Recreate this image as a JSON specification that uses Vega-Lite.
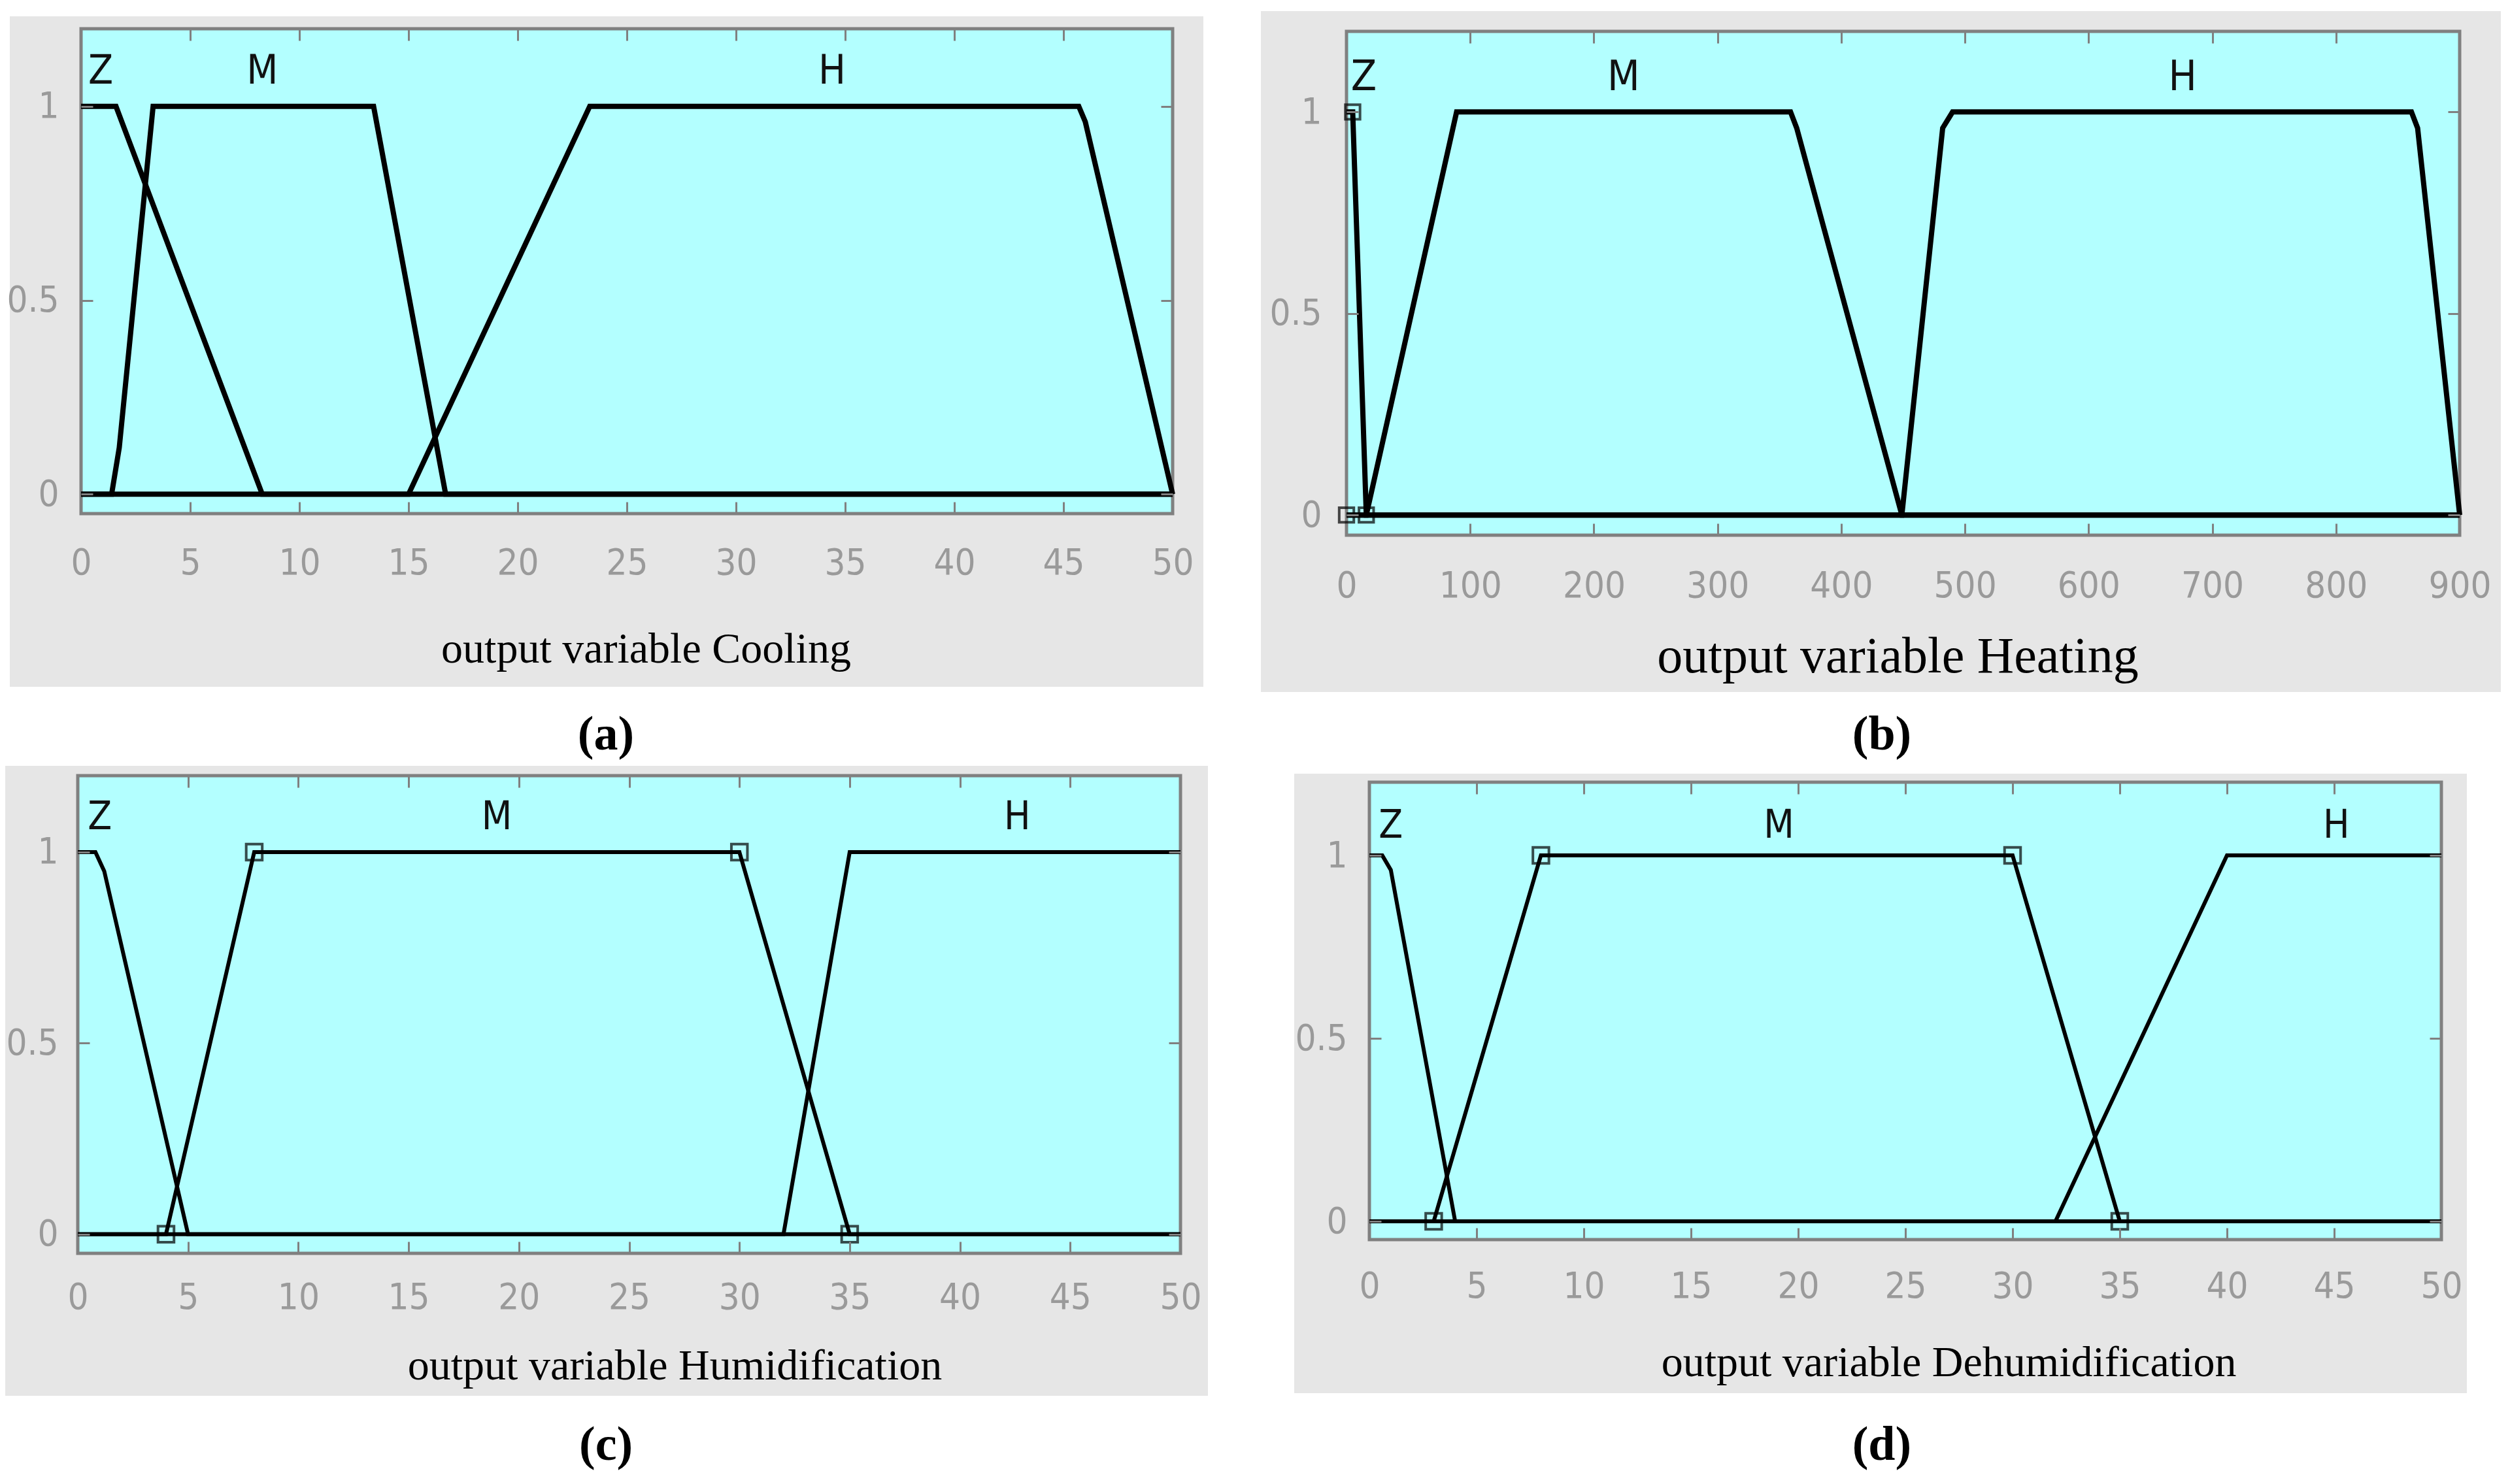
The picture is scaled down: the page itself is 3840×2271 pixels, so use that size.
{
  "$schema": "https://vega.github.io/schema/vega-lite/v6.json",
  "background": "white",
  "padding": {"left": 7, "top": 16, "right": 5, "bottom": 10},
  "columns": 2,
  "spacing": {"row": 368, "column": 254},
  "bounds": "flush",
  "align": "each",
  "config": {
    "view": {"stroke": null},
    "axis": {
      "domain": false, "grid": false, "tickColor": "#808080", "tickWidth": 3, "tickSize": -18,
      "labelFont": "Liberation Sans Narrow, Arial Narrow, DejaVu Sans Condensed, Liberation Sans",
      "labelFontSize": 56, "labelColor": "#9a9a9a", "labelFlush": false, "labelOverlap": false, "labelBound": false,
      "titleFont": "Liberation Serif", "titleFontWeight": "normal", "titleColor": "#000000", "zindex": 1
    }
  },
  "datasets": {
    "cooling": [
      {"mf": "Z", "i": 0, "x": 0, "y": 1}, {"mf": "Z", "i": 1, "x": 1.6, "y": 1}, {"mf": "Z", "i": 2, "x": 8.3, "y": 0}, {"mf": "Z", "i": 3, "x": 50, "y": 0},
      {"mf": "M", "i": 0, "x": 0, "y": 0}, {"mf": "M", "i": 1, "x": 1.4, "y": 0}, {"mf": "M", "i": 2, "x": 1.75, "y": 0.12}, {"mf": "M", "i": 3, "x": 3.3, "y": 1}, {"mf": "M", "i": 4, "x": 13.4, "y": 1}, {"mf": "M", "i": 5, "x": 16.7, "y": 0}, {"mf": "M", "i": 6, "x": 50, "y": 0},
      {"mf": "H", "i": 0, "x": 0, "y": 0}, {"mf": "H", "i": 1, "x": 15, "y": 0}, {"mf": "H", "i": 2, "x": 23.3, "y": 1}, {"mf": "H", "i": 3, "x": 45.7, "y": 1}, {"mf": "H", "i": 4, "x": 46.0, "y": 0.96}, {"mf": "H", "i": 5, "x": 50, "y": 0}
    ],
    "cooling_lab": [{"label": "Z", "x": 0.9, "y": 1.09}, {"label": "M", "x": 8.3, "y": 1.09}, {"label": "H", "x": 34.4, "y": 1.09}],
    "heating": [
      {"mf": "Z", "i": 0, "x": 0, "y": 1}, {"mf": "Z", "i": 1, "x": 5, "y": 1}, {"mf": "Z", "i": 2, "x": 16, "y": 0}, {"mf": "Z", "i": 3, "x": 900, "y": 0},
      {"mf": "M", "i": 0, "x": 0, "y": 0}, {"mf": "M", "i": 1, "x": 16, "y": 0}, {"mf": "M", "i": 2, "x": 89, "y": 1}, {"mf": "M", "i": 3, "x": 359, "y": 1}, {"mf": "M", "i": 4, "x": 364, "y": 0.96}, {"mf": "M", "i": 5, "x": 449, "y": 0}, {"mf": "M", "i": 6, "x": 900, "y": 0},
      {"mf": "H", "i": 0, "x": 0, "y": 0}, {"mf": "H", "i": 1, "x": 449, "y": 0}, {"mf": "H", "i": 2, "x": 482, "y": 0.96}, {"mf": "H", "i": 3, "x": 490, "y": 1}, {"mf": "H", "i": 4, "x": 861, "y": 1}, {"mf": "H", "i": 5, "x": 866, "y": 0.96}, {"mf": "H", "i": 6, "x": 900, "y": 0}
    ],
    "heating_lab": [{"label": "Z", "x": 14, "y": 1.085}, {"label": "M", "x": 224, "y": 1.085}, {"label": "H", "x": 676, "y": 1.085}],
    "heating_pts": [{"x": 0, "y": 0}, {"x": 5, "y": 1}, {"x": 16, "y": 0}],
    "humid": [
      {"mf": "Z", "i": 0, "x": 0, "y": 1}, {"mf": "Z", "i": 1, "x": 0.8, "y": 1}, {"mf": "Z", "i": 2, "x": 1.2, "y": 0.95}, {"mf": "Z", "i": 3, "x": 5, "y": 0}, {"mf": "Z", "i": 4, "x": 50, "y": 0},
      {"mf": "M", "i": 0, "x": 0, "y": 0}, {"mf": "M", "i": 1, "x": 4, "y": 0}, {"mf": "M", "i": 2, "x": 8, "y": 1}, {"mf": "M", "i": 3, "x": 30, "y": 1}, {"mf": "M", "i": 4, "x": 35, "y": 0}, {"mf": "M", "i": 5, "x": 50, "y": 0},
      {"mf": "H", "i": 0, "x": 0, "y": 0}, {"mf": "H", "i": 1, "x": 32, "y": 0}, {"mf": "H", "i": 2, "x": 35, "y": 1}, {"mf": "H", "i": 3, "x": 50, "y": 1}
    ],
    "humid_lab": [{"label": "Z", "x": 1.0, "y": 1.09}, {"label": "M", "x": 19, "y": 1.09}, {"label": "H", "x": 42.6, "y": 1.09}],
    "humid_pts": [{"x": 4, "y": 0}, {"x": 8, "y": 1}, {"x": 30, "y": 1}, {"x": 35, "y": 0}],
    "dehumid": [
      {"mf": "Z", "i": 0, "x": 0, "y": 1}, {"mf": "Z", "i": 1, "x": 0.6, "y": 1}, {"mf": "Z", "i": 2, "x": 1.0, "y": 0.96}, {"mf": "Z", "i": 3, "x": 4, "y": 0}, {"mf": "Z", "i": 4, "x": 50, "y": 0},
      {"mf": "M", "i": 0, "x": 0, "y": 0}, {"mf": "M", "i": 1, "x": 3, "y": 0}, {"mf": "M", "i": 2, "x": 8, "y": 1}, {"mf": "M", "i": 3, "x": 30, "y": 1}, {"mf": "M", "i": 4, "x": 35, "y": 0}, {"mf": "M", "i": 5, "x": 50, "y": 0},
      {"mf": "H", "i": 0, "x": 0, "y": 0}, {"mf": "H", "i": 1, "x": 32, "y": 0}, {"mf": "H", "i": 2, "x": 40, "y": 1}, {"mf": "H", "i": 3, "x": 50, "y": 1}
    ],
    "dehumid_lab": [{"label": "Z", "x": 1.0, "y": 1.08}, {"label": "M", "x": 19.1, "y": 1.08}, {"label": "H", "x": 45.1, "y": 1.08}],
    "dehumid_pts": [{"x": 3, "y": 0}, {"x": 8, "y": 1}, {"x": 30, "y": 1}, {"x": 35, "y": 0}]
  },
  "concat": [
    {
      "width": 1675, "height": 742,
      "resolve": {"axis": {"x": "independent", "y": "independent"}},
      "layer": [
        {"data": {"values": [{}]}, "mark": {"type": "rect", "color": "#e6e6e6"},
         "encoding": {
           "x": {"datum": -3.263, "type": "quantitative", "scale": {"domain": [0, 50], "range": [5, 1675], "nice": false, "zero": false}, "axis": null},
           "x2": {"datum": 51.407},
           "y": {"datum": 1.232, "type": "quantitative", "scale": {"domain": [-0.05, 1.2], "range": [742, 0], "nice": false, "zero": false}, "axis": null},
           "y2": {"datum": -0.4965}}},
        {"data": {"values": [{}]}, "mark": {"type": "rect", "fill": "#b3ffff", "stroke": "#808080", "strokeWidth": 5},
         "encoding": {
           "x": {"datum": 0, "type": "quantitative", "scale": {"domain": [0, 50], "range": [5, 1675], "nice": false, "zero": false},
                 "axis": {"orient": "bottom", "values": [0, 5, 10, 15, 20, 25, 30, 35, 40, 45, 50], "format": "d", "labelPadding": 93, "labelBaseline": "middle",
                          "title": "output variable Cooling", "titleFontSize": 66, "titleX": 869, "titleY": 207, "titleAlign": "center", "titleBaseline": "middle", "zindex": 1}},
           "x2": {"datum": 50},
           "y": {"datum": -0.05, "type": "quantitative", "scale": {"domain": [-0.05, 1.2], "range": [742, 0], "nice": false, "zero": false},
                 "axis": {"orient": "left", "offset": -5, "values": [0, 0.5, 1], "format": "~g", "labelPadding": 52, "title": null, "zindex": 1}},
           "y2": {"datum": 1.2}}},
        {"data": {"name": "cooling"}, "mark": {"type": "line", "color": "#000000", "strokeWidth": 8, "strokeMiterLimit": 4},
         "encoding": {
           "x": {"field": "x", "type": "quantitative", "scale": {"domain": [0, 50], "range": [5, 1675], "nice": false, "zero": false},
                 "axis": {"orient": "top", "values": [0, 5, 10, 15, 20, 25, 30, 35, 40, 45, 50], "labels": false, "title": null, "zindex": 1}},
           "y": {"field": "y", "type": "quantitative", "scale": {"domain": [-0.05, 1.2], "range": [742, 0], "nice": false, "zero": false},
                 "axis": {"orient": "right", "values": [0, 0.5, 1], "labels": false, "title": null, "zindex": 1}},
           "detail": {"field": "mf"}, "order": {"field": "i", "type": "quantitative"}}},
        {"data": {"name": "cooling_lab"}, "mark": {"type": "text", "font": "Liberation Sans Narrow, Arial Narrow, DejaVu Sans Condensed, Liberation Sans", "fontSize": 62, "color": "#111111", "align": "center", "baseline": "middle"},
         "encoding": {
           "x": {"field": "x", "type": "quantitative", "scale": {"domain": [0, 50], "range": [5, 1675], "nice": false, "zero": false}, "axis": null},
           "y": {"field": "y", "type": "quantitative", "scale": {"domain": [-0.05, 1.2], "range": [742, 0], "nice": false, "zero": false}, "axis": null},
           "text": {"field": "label"}}},
        {"data": {"values": [{}]}, "mark": {"type": "text", "font": "Liberation Serif", "fontSize": 74, "fontWeight": "bold", "color": "#000000", "align": "center", "baseline": "middle"},
         "encoding": {
           "x": {"datum": 24.04, "type": "quantitative", "scale": {"domain": [0, 50], "range": [5, 1675], "nice": false, "zero": false}, "axis": null},
           "y": {"datum": -0.6211, "type": "quantitative", "scale": {"domain": [-0.05, 1.2], "range": [742, 0], "nice": false, "zero": false}, "axis": null},
           "text": {"value": "(a)"}}}
      ]
    },
    {
      "width": 1703, "height": 775,
      "resolve": {"axis": {"x": "independent", "y": "independent"}},
      "layer": [
        {"data": {"values": [{}]}, "mark": {"type": "rect", "color": "#e6e6e6"},
         "encoding": {
           "x": {"datum": -69.23, "type": "quantitative", "scale": {"domain": [0, 900], "range": [0, 1703], "nice": false, "zero": false}, "axis": null},
           "x2": {"datum": 933.3},
           "y": {"datum": 1.2503, "type": "quantitative", "scale": {"domain": [-0.05, 1.2], "range": [775, 4], "nice": false, "zero": false}, "axis": null},
           "y2": {"datum": -0.4391}}},
        {"data": {"values": [{}]}, "mark": {"type": "rect", "fill": "#b3ffff", "stroke": "#808080", "strokeWidth": 5},
         "encoding": {
           "x": {"datum": 0, "type": "quantitative", "scale": {"domain": [0, 900], "range": [0, 1703], "nice": false, "zero": false},
                 "axis": {"orient": "bottom", "values": [0, 100, 200, 300, 400, 500, 600, 700, 800, 900], "format": "d", "labelPadding": 95, "labelBaseline": "middle",
                          "title": "output variable Heating", "titleFontSize": 78, "titleX": 843, "titleY": 186, "titleAlign": "center", "titleBaseline": "middle", "zindex": 1}},
           "x2": {"datum": 900},
           "y": {"datum": -0.05, "type": "quantitative", "scale": {"domain": [-0.05, 1.2], "range": [775, 4], "nice": false, "zero": false},
                 "axis": {"orient": "left", "values": [0, 0.5, 1], "format": "~g", "labelPadding": 56, "title": null, "zindex": 1}},
           "y2": {"datum": 1.2}}},
        {"data": {"name": "heating"}, "mark": {"type": "line", "color": "#000000", "strokeWidth": 8, "strokeMiterLimit": 4},
         "encoding": {
           "x": {"field": "x", "type": "quantitative", "scale": {"domain": [0, 900], "range": [0, 1703], "nice": false, "zero": false},
                 "axis": {"orient": "top", "offset": -4, "values": [0, 100, 200, 300, 400, 500, 600, 700, 800, 900], "labels": false, "title": null, "zindex": 1}},
           "y": {"field": "y", "type": "quantitative", "scale": {"domain": [-0.05, 1.2], "range": [775, 4], "nice": false, "zero": false},
                 "axis": {"orient": "right", "values": [0, 0.5, 1], "labels": false, "title": null, "zindex": 1}},
           "detail": {"field": "mf"}, "order": {"field": "i", "type": "quantitative"}}},
        {"data": {"name": "heating_pts"}, "mark": {"type": "point", "shape": "square", "filled": false, "size": 500, "strokeWidth": 4, "color": "#000000"},
         "encoding": {
           "x": {"field": "x", "type": "quantitative", "scale": {"domain": [0, 900], "range": [0, 1703], "nice": false, "zero": false}, "axis": null},
           "y": {"field": "y", "type": "quantitative", "scale": {"domain": [-0.05, 1.2], "range": [775, 4], "nice": false, "zero": false}, "axis": null}}},
        {"data": {"name": "heating_lab"}, "mark": {"type": "text", "font": "Liberation Sans Narrow, Arial Narrow, DejaVu Sans Condensed, Liberation Sans", "fontSize": 64, "color": "#111111", "align": "center", "baseline": "middle"},
         "encoding": {
           "x": {"field": "x", "type": "quantitative", "scale": {"domain": [0, 900], "range": [0, 1703], "nice": false, "zero": false}, "axis": null},
           "y": {"field": "y", "type": "quantitative", "scale": {"domain": [-0.05, 1.2], "range": [775, 4], "nice": false, "zero": false}, "axis": null},
           "text": {"field": "label"}}},
        {"data": {"values": [{}]}, "mark": {"type": "text", "font": "Liberation Serif", "fontSize": 74, "fontWeight": "bold", "color": "#000000", "align": "center", "baseline": "middle"},
         "encoding": {
           "x": {"datum": 432.8, "type": "quantitative", "scale": {"domain": [0, 900], "range": [0, 1703], "nice": false, "zero": false}, "axis": null},
           "y": {"datum": -0.5461, "type": "quantitative", "scale": {"domain": [-0.05, 1.2], "range": [775, 4], "nice": false, "zero": false}, "axis": null},
           "text": {"value": "(b)"}}}
      ]
    },
    {
      "width": 1687, "height": 731,
      "resolve": {"axis": {"x": "independent", "y": "independent"}},
      "layer": [
        {"data": {"values": [{}]}, "mark": {"type": "rect", "color": "#e6e6e6"},
         "encoding": {
           "x": {"datum": -3.29, "type": "quantitative", "scale": {"domain": [0, 50], "range": [0, 1687], "nice": false, "zero": false}, "axis": null},
           "x2": {"datum": 51.245},
           "y": {"datum": 1.2257, "type": "quantitative", "scale": {"domain": [-0.05, 1.2], "range": [731, 0], "nice": false, "zero": false}, "axis": null},
           "y2": {"datum": -0.4228}}},
        {"data": {"values": [{}]}, "mark": {"type": "rect", "fill": "#b3ffff", "stroke": "#808080", "strokeWidth": 5},
         "encoding": {
           "x": {"datum": 0, "type": "quantitative", "scale": {"domain": [0, 50], "range": [0, 1687], "nice": false, "zero": false},
                 "axis": {"orient": "bottom", "values": [0, 5, 10, 15, 20, 25, 30, 35, 40, 45, 50], "format": "d", "labelPadding": 85, "labelBaseline": "middle",
                          "title": "output variable Humidification", "titleFontSize": 66, "titleX": 913, "titleY": 172, "titleAlign": "center", "titleBaseline": "middle", "zindex": 1}},
           "x2": {"datum": 50},
           "y": {"datum": -0.05, "type": "quantitative", "scale": {"domain": [-0.05, 1.2], "range": [731, 0], "nice": false, "zero": false},
                 "axis": {"orient": "left", "values": [0, 0.5, 1], "format": "~g", "labelPadding": 48, "title": null, "zindex": 1}},
           "y2": {"datum": 1.2}}},
        {"data": {"name": "humid"}, "mark": {"type": "line", "color": "#000000", "strokeWidth": 6, "strokeMiterLimit": 4},
         "encoding": {
           "x": {"field": "x", "type": "quantitative", "scale": {"domain": [0, 50], "range": [0, 1687], "nice": false, "zero": false},
                 "axis": {"orient": "top", "values": [0, 5, 10, 15, 20, 25, 30, 35, 40, 45, 50], "labels": false, "title": null, "zindex": 1}},
           "y": {"field": "y", "type": "quantitative", "scale": {"domain": [-0.05, 1.2], "range": [731, 0], "nice": false, "zero": false},
                 "axis": {"orient": "right", "values": [0, 0.5, 1], "labels": false, "title": null, "zindex": 1}},
           "detail": {"field": "mf"}, "order": {"field": "i", "type": "quantitative"}}},
        {"data": {"name": "humid_pts"}, "mark": {"type": "point", "shape": "square", "filled": false, "size": 600, "strokeWidth": 4, "color": "#000000"},
         "encoding": {
           "x": {"field": "x", "type": "quantitative", "scale": {"domain": [0, 50], "range": [0, 1687], "nice": false, "zero": false}, "axis": null},
           "y": {"field": "y", "type": "quantitative", "scale": {"domain": [-0.05, 1.2], "range": [731, 0], "nice": false, "zero": false}, "axis": null}}},
        {"data": {"name": "humid_lab"}, "mark": {"type": "text", "font": "Liberation Sans Narrow, Arial Narrow, DejaVu Sans Condensed, Liberation Sans", "fontSize": 60, "color": "#111111", "align": "center", "baseline": "middle"},
         "encoding": {
           "x": {"field": "x", "type": "quantitative", "scale": {"domain": [0, 50], "range": [0, 1687], "nice": false, "zero": false}, "axis": null},
           "y": {"field": "y", "type": "quantitative", "scale": {"domain": [-0.05, 1.2], "range": [731, 0], "nice": false, "zero": false}, "axis": null},
           "text": {"field": "label"}}},
        {"data": {"values": [{}]}, "mark": {"type": "text", "font": "Liberation Serif", "fontSize": 74, "fontWeight": "bold", "color": "#000000", "align": "center", "baseline": "middle"},
         "encoding": {
           "x": {"datum": 23.95, "type": "quantitative", "scale": {"domain": [0, 50], "range": [0, 1687], "nice": false, "zero": false}, "axis": null},
           "y": {"datum": -0.5527, "type": "quantitative", "scale": {"domain": [-0.05, 1.2], "range": [731, 0], "nice": false, "zero": false}, "axis": null},
           "text": {"value": "(c)"}}}
      ]
    },
    {
      "width": 1675, "height": 710,
      "resolve": {"axis": {"x": "independent", "y": "independent"}},
      "layer": [
        {"data": {"values": [{}]}, "mark": {"type": "rect", "color": "#e6e6e6"},
         "encoding": {
           "x": {"datum": -3.506, "type": "quantitative", "scale": {"domain": [0, 50], "range": [35, 1675], "nice": false, "zero": false}, "axis": null},
           "x2": {"datum": 51.19},
           "y": {"datum": 1.2232, "type": "quantitative", "scale": {"domain": [-0.05, 1.2], "range": [710, 10], "nice": false, "zero": false}, "axis": null},
           "y2": {"datum": -0.4696}}},
        {"data": {"values": [{}]}, "mark": {"type": "rect", "fill": "#b3ffff", "stroke": "#808080", "strokeWidth": 5},
         "encoding": {
           "x": {"datum": 0, "type": "quantitative", "scale": {"domain": [0, 50], "range": [35, 1675], "nice": false, "zero": false},
                 "axis": {"orient": "bottom", "values": [0, 5, 10, 15, 20, 25, 30, 35, 40, 45, 50], "format": "d", "labelPadding": 89, "labelBaseline": "middle",
                          "title": "output variable Dehumidification", "titleFontSize": 66, "titleX": 921, "titleY": 188, "titleAlign": "center", "titleBaseline": "middle", "zindex": 1}},
           "x2": {"datum": 50},
           "y": {"datum": -0.05, "type": "quantitative", "scale": {"domain": [-0.05, 1.2], "range": [710, 10], "nice": false, "zero": false},
                 "axis": {"orient": "left", "offset": -35, "values": [0, 0.5, 1], "format": "~g", "labelPadding": 52, "title": null, "zindex": 1}},
           "y2": {"datum": 1.2}}},
        {"data": {"name": "dehumid"}, "mark": {"type": "line", "color": "#000000", "strokeWidth": 6, "strokeMiterLimit": 4},
         "encoding": {
           "x": {"field": "x", "type": "quantitative", "scale": {"domain": [0, 50], "range": [35, 1675], "nice": false, "zero": false},
                 "axis": {"orient": "top", "offset": -10, "values": [0, 5, 10, 15, 20, 25, 30, 35, 40, 45, 50], "labels": false, "title": null, "zindex": 1}},
           "y": {"field": "y", "type": "quantitative", "scale": {"domain": [-0.05, 1.2], "range": [710, 10], "nice": false, "zero": false},
                 "axis": {"orient": "right", "values": [0, 0.5, 1], "labels": false, "title": null, "zindex": 1}},
           "detail": {"field": "mf"}, "order": {"field": "i", "type": "quantitative"}}},
        {"data": {"name": "dehumid_pts"}, "mark": {"type": "point", "shape": "square", "filled": false, "size": 600, "strokeWidth": 4, "color": "#000000"},
         "encoding": {
           "x": {"field": "x", "type": "quantitative", "scale": {"domain": [0, 50], "range": [35, 1675], "nice": false, "zero": false}, "axis": null},
           "y": {"field": "y", "type": "quantitative", "scale": {"domain": [-0.05, 1.2], "range": [710, 10], "nice": false, "zero": false}, "axis": null}}},
        {"data": {"name": "dehumid_lab"}, "mark": {"type": "text", "font": "Liberation Sans Narrow, Arial Narrow, DejaVu Sans Condensed, Liberation Sans", "fontSize": 60, "color": "#111111", "align": "center", "baseline": "middle"},
         "encoding": {
           "x": {"field": "x", "type": "quantitative", "scale": {"domain": [0, 50], "range": [35, 1675], "nice": false, "zero": false}, "axis": null},
           "y": {"field": "y", "type": "quantitative", "scale": {"domain": [-0.05, 1.2], "range": [710, 10], "nice": false, "zero": false}, "axis": null},
           "text": {"field": "label"}}},
        {"data": {"values": [{}]}, "mark": {"type": "text", "font": "Liberation Serif", "fontSize": 74, "fontWeight": "bold", "color": "#000000", "align": "center", "baseline": "middle"},
         "encoding": {
           "x": {"datum": 23.9, "type": "quantitative", "scale": {"domain": [0, 50], "range": [35, 1675], "nice": false, "zero": false}, "axis": null},
           "y": {"datum": -0.6125, "type": "quantitative", "scale": {"domain": [-0.05, 1.2], "range": [710, 10], "nice": false, "zero": false}, "axis": null},
           "text": {"value": "(d)"}}}
      ]
    }
  ]
}
